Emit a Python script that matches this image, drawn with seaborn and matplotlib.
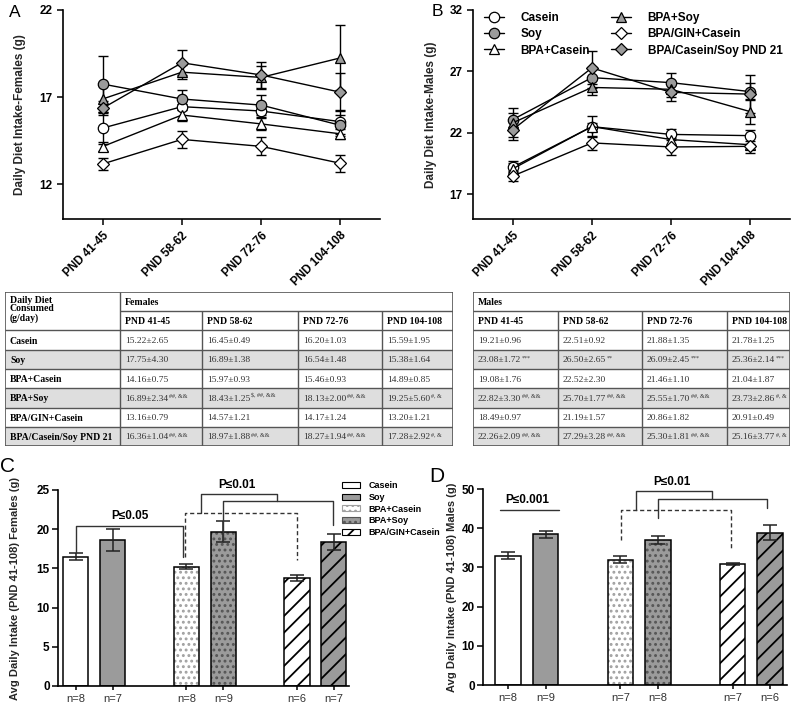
import numpy as np
import pandas as pd
import matplotlib
matplotlib.use('Agg')
import matplotlib.pyplot as plt
import seaborn as sns
from matplotlib.patches import Rectangle, Patch
from matplotlib.lines import Line2D

sns.set_theme(style='ticks')
plt.rcParams['font.family'] = ['Liberation Sans', 'DejaVu Sans']
plt.rcParams['hatch.linewidth'] = 1.3
plt.rcParams['axes.edgecolor'] = 'black'
plt.rcParams['text.color'] = 'black'
plt.rcParams['xtick.color'] = 'black'
plt.rcParams['ytick.color'] = 'black'

# ---------------- data ----------------
groups = ['Casein', 'Soy', 'BPA+Casein', 'BPA+Soy', 'BPA/GIN+Casein', 'BPA/Casein/Soy PND 21']
periods = ['PND 41-45', 'PND 58-62', 'PND 72-76', 'PND 104-108']

# females: mean, SD (table), SEM (error bars on plot)
fem_mean = [[15.22, 16.45, 16.20, 15.59],
            [17.75, 16.89, 16.54, 15.38],
            [14.16, 15.97, 15.46, 14.89],
            [16.89, 18.43, 18.13, 19.25],
            [13.16, 14.57, 14.17, 13.20],
            [16.36, 18.97, 18.27, 17.28]]
fem_sd = [[2.65, 0.49, 1.03, 1.95],
          [4.30, 1.38, 1.48, 1.64],
          [0.75, 0.93, 0.93, 0.85],
          [2.34, 1.25, 2.00, 5.60],
          [0.79, 1.21, 1.24, 1.21],
          [1.04, 1.88, 1.94, 2.92]]
fem_sem = [[0.94, 0.17, 0.36, 0.69],
           [1.63, 0.52, 0.56, 0.62],
           [0.27, 0.33, 0.33, 0.30],
           [0.78, 0.42, 0.67, 1.87],
           [0.32, 0.49, 0.51, 0.49],
           [0.39, 0.71, 0.73, 1.10]]
fem_sup = [['', '', '', ''],
           ['', '', '', ''],
           ['', '', '', ''],
           ['##, &&', '$, ##, &&', '##, &&', '#, &'],
           ['', '', '', ''],
           ['##, &&', '##, &&', '##, &&', '#, &']]

male_mean = [[19.21, 22.51, 21.88, 21.78],
             [23.08, 26.50, 26.09, 25.36],
             [19.08, 22.52, 21.46, 21.04],
             [22.82, 25.70, 25.55, 23.73],
             [18.49, 21.19, 20.86, 20.91],
             [22.26, 27.29, 25.30, 25.16]]
male_sd = [[0.96, 0.92, 1.35, 1.25],
           [1.72, 2.65, 2.45, 2.14],
           [1.76, 2.30, 1.10, 1.87],
           [3.30, 1.77, 1.70, 2.86],
           [0.97, 1.57, 1.82, 0.49],
           [2.09, 3.28, 1.81, 3.77]]
male_sem = [[0.34, 0.33, 0.48, 0.44],
            [0.57, 0.88, 0.82, 0.71],
            [0.67, 0.87, 0.42, 0.71],
            [1.17, 0.63, 0.60, 1.01],
            [0.37, 0.59, 0.69, 0.19],
            [0.85, 1.34, 0.74, 1.54]]
male_sup = [['', '', '', ''],
            ['***', '**', '***', '***'],
            ['', '', '', ''],
            ['##, &&', '##, &&', '##, &&', '#, &'],
            ['', '', '', ''],
            ['##, &&', '##, &&', '##, &&', '#, &']]

# averages over PND 41-108
fem_bar = [16.5, 18.6, 15.2, 19.7, 13.8, 18.4]
fem_bar_err = [0.45, 1.4, 0.3, 1.35, 0.35, 1.05]
fem_n = [8, 7, 8, 9, 6, 7]
male_bar = [33.0, 38.4, 32.0, 37.0, 30.9, 38.9]
male_bar_err = [0.9, 0.9, 0.85, 1.1, 0.25, 2.0]
male_n = [8, 9, 7, 8, 7, 6]

# ---------------- styles ----------------
GREY = '#9b9b9b'
MARKERS = {'Casein': 'o', 'Soy': 'o', 'BPA+Casein': '^', 'BPA+Soy': '^',
           'BPA/GIN+Casein': 'D', 'BPA/Casein/Soy PND 21': 'D'}
MSIZE = {'Casein': 7.5, 'Soy': 7.5, 'BPA+Casein': 7.5, 'BPA+Soy': 7.5,
         'BPA/GIN+Casein': 6.2, 'BPA/Casein/Soy PND 21': 6.2}
FACES = {'Casein': 'white', 'Soy': GREY, 'BPA+Casein': 'white', 'BPA+Soy': GREY,
         'BPA/GIN+Casein': 'white', 'BPA/Casein/Soy PND 21': GREY}
BAR_FACE = FACES
BAR_HATCH = {'Casein': None, 'Soy': None, 'BPA+Casein': '...', 'BPA+Soy': '...',
             'BPA/GIN+Casein': '//', 'BPA/Casein/Soy PND 21': '//'}
HATCH_COL = {'Casein': 'black', 'Soy': 'black', 'BPA+Casein': '#a0a0a0', 'BPA+Soy': '#555555',
             'BPA/GIN+Casein': 'black', 'BPA/Casein/Soy PND 21': 'black'}
slot_order = ['Casein', 'Soy', ' ', 'BPA+Casein', 'BPA+Soy', '  ',
              'BPA/GIN+Casein', 'BPA/Casein/Soy PND 21']

W, H = 800, 703
fig = plt.figure(figsize=(W / 100, H / 100), dpi=100)


def px_axes(left, top, right, bottom):
    return fig.add_axes([left / W, 1 - bottom / H, (right - left) / W, (bottom - top) / H])


def style_axes(ax):
    sns.despine(ax=ax)
    for s in ['left', 'bottom']:
        ax.spines[s].set_linewidth(1.2)
    ax.tick_params(direction='out', length=4, width=1.1, labelsize=8.5)
    for lab in ax.get_yticklabels():
        lab.set_fontweight('bold')


def line_panel(ax, means, sems, ylim, yticks, ylabel, labx):
    x = np.arange(len(periods))
    for g, m, s in zip(groups, means, sems):
        ax.errorbar(x, m, yerr=s, fmt='none', ecolor='black', elinewidth=1,
                    capsize=3.5, capthick=1, zorder=2)
        sns.lineplot(x=x, y=m, ax=ax, color='black', linewidth=1, errorbar=None,
                     marker=MARKERS[g], markersize=MSIZE[g], markerfacecolor=FACES[g],
                     markeredgecolor='black', markeredgewidth=0.9, zorder=3)
    ax.set_xlim(-0.5, 3.5)
    ax.set_ylim(*ylim)
    ax.set_yticks(yticks)
    ax.set_xticks(x)
    ax.set_xticklabels(periods, rotation=45, ha='right', rotation_mode='anchor',
                       fontweight='bold', fontsize=8.5)
    ax.set_xlabel('')
    ax.set_ylabel(ylabel, fontsize=8.5, fontweight='bold')
    ax.yaxis.set_label_coords(labx, 0.5)
    style_axes(ax)


def bar_panel(ax, vals, errs, ns, ylim, step, ylabel, xlim, labx):
    df = pd.DataFrame({'group': groups, 'value': vals})
    sns.barplot(data=df, x='group', y='value', order=slot_order, color='white',
                saturation=1, width=0.68, edgecolor='black', linewidth=1.1,
                errorbar=None, ax=ax)
    pos = [slot_order.index(g) for g in groups]
    for p in list(ax.patches):
        c = int(round(p.get_x() + p.get_width() / 2))
        if c not in pos:
            continue
        g = groups[pos.index(c)]
        p.set_facecolor(BAR_FACE[g])
        if BAR_HATCH[g]:
            p.set_hatch(BAR_HATCH[g])
            p.set_edgecolor(HATCH_COL[g])
            p.set_linewidth(0)
            ax.add_patch(Rectangle((p.get_x(), p.get_y()), p.get_width(), p.get_height(),
                                   fill=False, edgecolor='black', lw=1.1,
                                   zorder=p.get_zorder() + 0.1))
    ax.errorbar(pos, vals, yerr=errs, fmt='none', ecolor='#222222', elinewidth=1.1,
                capsize=5, capthick=1.1, zorder=5)
    ax.set_xlim(*xlim)
    ax.set_ylim(*ylim)
    ax.set_yticks(np.arange(ylim[0], ylim[1] + 0.1, step))
    ax.set_xticks(pos)
    ax.set_xticklabels([f'n={n}' for n in ns], fontsize=8, color='#333333')
    ax.set_xlabel('')
    ax.set_ylabel(ylabel, fontsize=8, fontweight='bold')
    ax.yaxis.set_label_coords(labx, 0.5)
    style_axes(ax)
    ax.tick_params(axis='x', length=3, pad=3, labelsize=8)
    ax.tick_params(axis='y', pad=2)


def bracket(ax, xs, ys, dashed=False):
    ax.plot(xs, ys, color='#333333', lw=1, clip_on=False,
            linestyle=(0, (3, 2)) if dashed else '-', zorder=6)


# ---------------- A / B ----------------
axA = px_axes(63, 10, 380, 219)
line_panel(axA, fem_mean, fem_sem, (10, 22), [12, 17, 22],
           'Daily Diet Intake-Females (g)', -0.117)
axB = px_axes(473, 10, 790, 219)
line_panel(axB, male_mean, male_sem, (15, 32), [17, 22, 27, 32],
           'Daily Diet Intake-Males (g)', -0.114)

handles = [Line2D([], [], color='black', lw=1, marker=MARKERS[g], markersize=MSIZE[g],
                  markerfacecolor=FACES[g], markeredgecolor='black', markeredgewidth=0.9)
           for g in groups]
leg = axB.legend(handles, groups, ncol=2, loc='upper left', bbox_to_anchor=(0.0, 1.04),
                 frameon=False, prop={'size': 8.5, 'weight': 'bold'}, handlelength=1.7,
                 handletextpad=1.4, columnspacing=1.8, labelspacing=0.35)

# ---------------- tables ----------------
def draw_table(ax, colx, title, means, sds, sups, with_rowlab):
    ax.set_xlim(0, colx[-1])
    ax.set_ylim(8, 0)
    ax.axis('off')
    for r in [3, 5, 7]:
        ax.add_patch(Rectangle((0, r), colx[-1], 1, facecolor='#dedede', edgecolor='none'))
    lc = '#555555'
    ax.add_patch(Rectangle((0, 0), colx[-1], 8, fill=False, edgecolor=lc, lw=1.2))
    c0 = colx[1] if with_rowlab else colx[0]
    ax.hlines(1, c0, colx[-1], color=lc, lw=1)
    ax.hlines(range(2, 8), 0, colx[-1], color=lc, lw=1)
    if with_rowlab:
        ax.vlines(colx[1], 0, 8, color=lc, lw=1)
    start = 2 if with_rowlab else 1
    ax.vlines(colx[start:-1], 1, 8, color=lc, lw=1)
    serif = ['Liberation Serif', 'DejaVu Serif']
    pcols = colx[start - 1:]
    ax.text(pcols[0] + 5, 0.55, title, family=serif, fontsize=7, fontweight='bold',
            va='center', ha='left')
    for j, per in enumerate(periods):
        ax.text(pcols[j] + 5, 1.55, per, family=serif, fontsize=7, fontweight='bold',
                va='center', ha='left')
    if with_rowlab:
        ax.text(5, 0.2, 'Daily Diet\nConsumed\n(g/day)', family=serif, fontsize=7,
                fontweight='bold', va='top', ha='left', linespacing=0.95)
        for i, g in enumerate(groups):
            ax.text(5, 2.55 + i, g, family=serif, fontsize=7, fontweight='bold',
                    va='center', ha='left')
    for i in range(len(groups)):
        for j in range(len(periods)):
            t = ax.text(pcols[j] + 5, 2.55 + i, f'{means[i][j]:.2f}\u00b1{sds[i][j]:.2f}',
                        family=serif, fontsize=6.8, color='#333333', va='center',
                        ha='left', parse_math=False)
            if sups[i][j]:
                ax.annotate(sups[i][j], xy=(1, 0.5), xycoords=t, xytext=(0.4, 0),
                            textcoords='offset points', family=serif, fontsize=4.3,
                            color='#333333', va='bottom', ha='left', parse_math=False)


axTF = px_axes(5, 292, 453, 446)
draw_table(axTF, [0, 115, 197, 293, 377, 448], 'Females', fem_mean, fem_sd, fem_sup, True)
axTM = px_axes(473, 292, 790, 446)
draw_table(axTM, [0, 85, 169, 254, 317], 'Males', male_mean, male_sd, male_sup, False)

# ---------------- C / D ----------------
axC = px_axes(58, 490, 349, 686)
bar_panel(axC, fem_bar, fem_bar_err, fem_n, (0, 25), 5,
          'Avg Daily Intake (PND 41-108) Females (g)', (-0.48, 7.41), -0.13)
bracket(axC, [0, 0, 2.91, 2.91], [17.0, 20.4, 20.4, 16.5])
axC.text(1.47, 21.7, 'P\u22640.05', ha='center', va='center', fontsize=8.5, fontweight='bold')
bracket(axC, [2.96, 2.96, 6.0, 6.0], [16.5, 22.1, 22.1, 16.1], dashed=True)
bracket(axC, [3.4, 3.4, 5.46, 5.46], [22.1, 24.5, 24.5, 23.6])
bracket(axC, [4.0, 4.0, 6.98, 6.98], [18.4, 23.6, 23.6, 20.5])
axC.text(4.38, 25.6, 'P\u22640.01', ha='center', va='center', fontsize=8.5, fontweight='bold')

axD = px_axes(483, 489, 787, 685)
bar_panel(axD, male_bar, male_bar_err, male_n, (0, 50), 10,
          'Avg Daily Intake (PND 41-108) Males (g)', (-0.67, 7.45), -0.085)
bracket(axD, [-0.21, 1.36], [44.6, 44.6])
axD.text(0.51, 47.2, 'P\u22640.001', ha='center', va='center', fontsize=8.5, fontweight='bold')
bracket(axD, [3.02, 3.02, 5.95, 5.95], [37.0, 44.6, 44.6, 35.0], dashed=True)
bracket(axD, [3.42, 3.42, 5.45, 5.45], [44.6, 49.5, 49.5, 47.4])
bracket(axD, [4.0, 4.0, 6.91, 6.91], [42.6, 47.4, 47.4, 45.2])
axD.text(4.38, 51.8, 'P\u22640.01', ha='center', va='center', fontsize=8.5, fontweight='bold')

leg_handles = [Patch(facecolor=BAR_FACE[g], edgecolor=HATCH_COL[g], hatch=BAR_HATCH[g], lw=0.8)
               for g in groups[:5]]
fig.legend(leg_handles, groups[:5], loc='upper left', bbox_to_anchor=(334 / W, 1 - 473 / H),
           frameon=False, prop={'size': 6.5, 'weight': 'bold'}, handlelength=2.0,
           handleheight=0.6, labelspacing=0.3, handletextpad=0.9)

# panel letters
fig.text(15 / W, 1 - 12.5 / H, 'A', fontsize=12.5, ha='center', va='center')
fig.text(437 / W, 1 - 11 / H, 'B', fontsize=12.5, ha='center', va='center')
fig.text(7 / W, 1 - 467 / H, 'C', fontsize=15, ha='center', va='center')
fig.text(437 / W, 1 - 476 / H, 'D', fontsize=15, ha='center', va='center')

fig.savefig('out.png', dpi=100)
